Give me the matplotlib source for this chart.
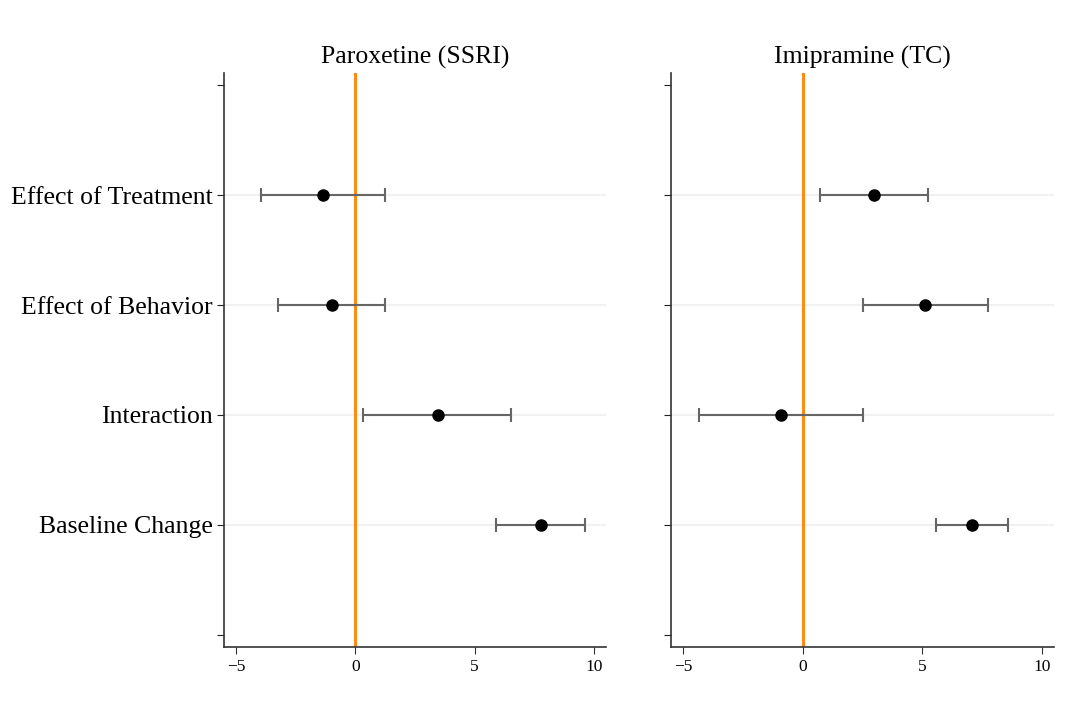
import matplotlib
matplotlib.use("Agg")
import matplotlib.pyplot as plt

plt.rcParams['font.family'] = ['Liberation Serif', 'DejaVu Serif']

labels = ["Effect of Treatment", "Effect of Behavior", "Interaction", "Baseline Change"]
titles = ["Paroxetine (SSRI)", "Imipramine (TC)"]

# point estimates and 95% intervals, one list per drug
parox_est = [-1.34, -0.97, 3.45, 7.77]
parox_lo = [-3.95, -3.24, 0.34, 5.88]
parox_hi = [1.26, 1.25, 6.50, 9.62]

imip_est = [2.96, 5.10, -0.89, 7.07]
imip_lo = [0.71, 2.50, -4.32, 5.57]
imip_hi = [5.25, 7.75, 2.53, 8.58]

panels = [(parox_est, parox_lo, parox_hi), (imip_est, imip_lo, imip_hi)]

fig = plt.figure(figsize=(10.76, 7.13), dpi=100)
axes = [fig.add_axes([0.2082, 0.0926, 0.355, 0.805]),
        fig.add_axes([0.6236, 0.0926, 0.356, 0.805])]

ypos = [1, 2, 3, 4]
for i, ax in enumerate(axes):
    est, lo, hi = panels[i]
    for y in ypos:
        ax.axhline(y, color='#f0f2f2', lw=1.5, zorder=0)
    ax.axvline(0, color='#ff8a14', lw=2.2, zorder=1)
    xerr = [[e - l for e, l in zip(est, lo)], [h - e for e, h in zip(est, hi)]]
    ax.errorbar(est, ypos, xerr=xerr, fmt='none', ecolor='#666666',
                elinewidth=1.5, capsize=5, capthick=1.5, zorder=2)
    ax.plot(est, ypos, 'o', color='black', ms=8, zorder=3)

    ax.set_xlim(-5.5, 10.5)
    ax.set_ylim(5.11, -0.11)
    ax.set_xticks([-5, 0, 5, 10])
    ax.set_yticks([0, 1, 2, 3, 4, 5])
    if i == 0:
        ax.set_yticklabels([""] + labels + [""], fontsize=18.5)
    else:
        ax.set_yticklabels([])
    ax.tick_params(axis='x', labelsize=12.5, length=5, color='#333333')
    ax.tick_params(axis='y', length=5, color='#222222', pad=3)
    for s in ['top', 'right']:
        ax.spines[s].set_visible(False)
    for s in ['left', 'bottom']:
        ax.spines[s].set_color('#333333')
        ax.spines[s].set_linewidth(1.2)
    ax.set_title(titles[i], fontsize=18.5, pad=7)

fig.savefig("out.png", dpi=100, facecolor='white')
